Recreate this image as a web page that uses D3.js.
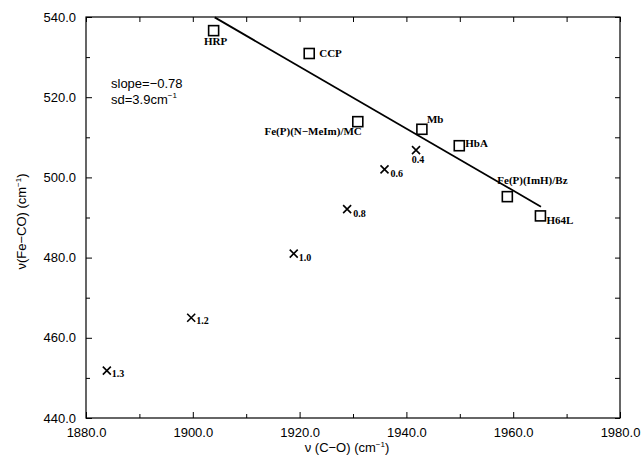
<!DOCTYPE html>
<html>
<head>
<meta charset="utf-8">
<script src="https://cdn.jsdelivr.net/npm/d3@7"></script>
<style>
  body { margin: 0; background: #fff; }
  svg text { fill: #000; }
  .tick-label { font-family: "Liberation Sans", Arial, sans-serif; font-size: 13px; }
  .pt-label { font-family: "Liberation Serif", "Times New Roman", serif; font-weight: bold; font-size: 11px; }
  .x-label { font-family: "Liberation Serif", "Times New Roman", serif; font-weight: bold; font-size: 10px; }
</style>
</head>
<body>
<div id="chart"></div>
<script>
// heme proteins / model compounds (open squares)
const proteinNames = ["HRP", "CCP", "Fe(P)(N\u2212MeIm)/MC", "Mb", "HbA", "Fe(P)(ImH)/Bz", "H64L"];
const proteinCO = [1903.9, 1921.8, 1930.9, 1942.9, 1949.9, 1958.9, 1965.1];
const proteinFeCO = [536.6, 530.9, 513.9, 512.0, 507.9, 495.2, 490.4];

// crosses, labelled with a parameter value
const seriesLabels = ["0.4", "0.6", "0.8", "1.0", "1.2", "1.3"];
const seriesCO = [1941.8, 1935.9, 1928.9, 1918.9, 1899.7, 1883.9];
const seriesFeCO = [506.8, 502.0, 492.1, 481.0, 465.0, 451.8];

// least squares line endpoints
const fitCO = [1904.1, 1965.2];
const fitFeCO = [539.9, 492.7];

const xTicks = [1880, 1900, 1920, 1940, 1960, 1980];
const yTicks = [440, 460, 480, 500, 520, 540];

// label offsets (dx, dy, anchor) per point
const proteinLabelPos = [
  [2, 14, "middle"], [10, 4, "start"], [4, 13, "end"], [5, -6, "start"],
  [6, 1, "start"], [-10, -13, "start"], [6, 8, "start"]
];
const seriesLabelPos = [
  [2, 13, "middle"], [6, 8, "start"], [6, 8, "start"],
  [5, 7, "start"], [5, 6, "start"], [5, 6.5, "start"]
];

const width = 642, height = 458;
const margin = {top: 17, right: 22, bottom: 40, left: 86};

const svg = d3.select("#chart").append("svg")
  .attr("width", width)
  .attr("height", height);

const x = d3.scaleLinear().domain([1880, 1980]).range([margin.left, width - margin.right]);
const y = d3.scaleLinear().domain([440, 540]).range([height - margin.bottom, margin.top]);

const minorX = d3.range(1890, 1980, 20);
const minorY = d3.range(450, 540, 20);

// frame
svg.append("rect")
  .attr("x", x(1880)).attr("y", y(540))
  .attr("width", x(1980) - x(1880)).attr("height", y(440) - y(540))
  .attr("fill", "none").attr("stroke", "#000").attr("stroke-width", 1.2);

// axes with inward ticks
const xAxis = svg.append("g")
  .attr("transform", "translate(0," + y(440) + ")")
  .call(d3.axisBottom(x).tickValues(xTicks).tickSize(-6).tickPadding(10).tickFormat(d3.format(".1f")));
xAxis.select(".domain").remove();
xAxis.selectAll("text").attr("class", "tick-label").attr("dy", "0.7em").attr("font-size", null).attr("font-family", null);

svg.append("g")
  .attr("transform", "translate(0," + y(440) + ")")
  .call(d3.axisBottom(x).tickValues(minorX).tickSize(-4).tickFormat(""))
  .select(".domain").remove();

const yAxis = svg.append("g")
  .attr("transform", "translate(" + x(1880) + ",0)")
  .call(d3.axisLeft(y).tickValues(yTicks).tickSize(-6).tickPadding(10).tickFormat(d3.format(".1f")));
yAxis.select(".domain").remove();
yAxis.selectAll("text").attr("class", "tick-label").attr("font-size", null).attr("font-family", null);

svg.append("g")
  .attr("transform", "translate(" + x(1880) + ",0)")
  .call(d3.axisLeft(y).tickValues(minorY).tickSize(-4).tickFormat(""))
  .select(".domain").remove();

// top/right ticks
svg.append("g")
  .attr("transform", "translate(0," + y(540) + ")")
  .call(d3.axisTop(x).tickValues(xTicks.concat(minorX)).tickSize(-5).tickFormat(""))
  .select(".domain").remove();
svg.append("g")
  .attr("transform", "translate(" + x(1980) + ",0)")
  .call(d3.axisRight(y).tickValues(yTicks.concat(minorY)).tickSize(-5).tickFormat(""))
  .select(".domain").remove();

svg.selectAll(".tick line").attr("stroke", "#000").attr("stroke-width", 1);

// axis titles
const xt = svg.append("text")
  .attr("class", "tick-label")
  .attr("x", 347).attr("y", 452)
  .attr("text-anchor", "middle");
xt.append("tspan").text("\u03bd (C\u2212O) (cm");
xt.append("tspan").attr("font-size", "8px").attr("dy", -5).text("\u22121");
xt.append("tspan").attr("dy", 5).text(")");

const yt = svg.append("text")
  .attr("class", "tick-label")
  .attr("transform", "translate(26," + ((y(440) + y(540)) / 2 + 4) + ") rotate(-90)")
  .attr("text-anchor", "middle");
yt.append("tspan").text("\u03bd(Fe\u2212CO) (cm");
yt.append("tspan").attr("font-size", "8px").attr("dy", -5).text("\u22121");
yt.append("tspan").attr("dy", 5).text(")");

// slope annotation
svg.append("text").attr("class", "tick-label").attr("x", 111).attr("y", 88).text("slope=\u22120.78");
const sd = svg.append("text").attr("class", "tick-label").attr("x", 111).attr("y", 104);
sd.append("tspan").text("sd=3.9cm");
sd.append("tspan").attr("font-size", "8px").attr("dy", -6).text("\u22121");

// fit line
svg.append("line")
  .attr("x1", x(fitCO[0])).attr("y1", y(fitFeCO[0]))
  .attr("x2", x(fitCO[1])).attr("y2", y(fitFeCO[1]))
  .attr("stroke", "#000").attr("stroke-width", 1.8);

// squares
const proteins = proteinNames.map((n, i) => ({name: n, co: proteinCO[i], feco: proteinFeCO[i], pos: proteinLabelPos[i]}));
svg.append("g").selectAll("rect")
  .data(proteins).enter().append("rect")
  .attr("x", d => x(d.co) - 5).attr("y", d => y(d.feco) - 5)
  .attr("width", 10).attr("height", 10)
  .attr("fill", "#fff").attr("stroke", "#000").attr("stroke-width", 1.6);
svg.append("g").selectAll("text")
  .data(proteins).enter().append("text")
  .attr("class", "pt-label")
  .attr("x", d => x(d.co) + d.pos[0]).attr("y", d => y(d.feco) + d.pos[1])
  .attr("text-anchor", d => d.pos[2])
  .text(d => d.name);

// crosses
const series = seriesLabels.map((n, i) => ({name: n, co: seriesCO[i], feco: seriesFeCO[i], pos: seriesLabelPos[i]}));
svg.append("g").selectAll("path")
  .data(series).enter().append("path")
  .attr("d", d => {
    const cx = x(d.co), cy = y(d.feco), r = 4;
    return "M" + (cx - r) + "," + (cy - r) + "L" + (cx + r) + "," + (cy + r) +
      "M" + (cx - r) + "," + (cy + r) + "L" + (cx + r) + "," + (cy - r);
  })
  .attr("stroke", "#000").attr("stroke-width", 1.6);
svg.append("g").selectAll("text")
  .data(series).enter().append("text")
  .attr("class", "x-label")
  .attr("x", d => x(d.co) + d.pos[0]).attr("y", d => y(d.feco) + d.pos[1])
  .attr("text-anchor", d => d.pos[2])
  .text(d => d.name);
</script>
</body>
</html>
